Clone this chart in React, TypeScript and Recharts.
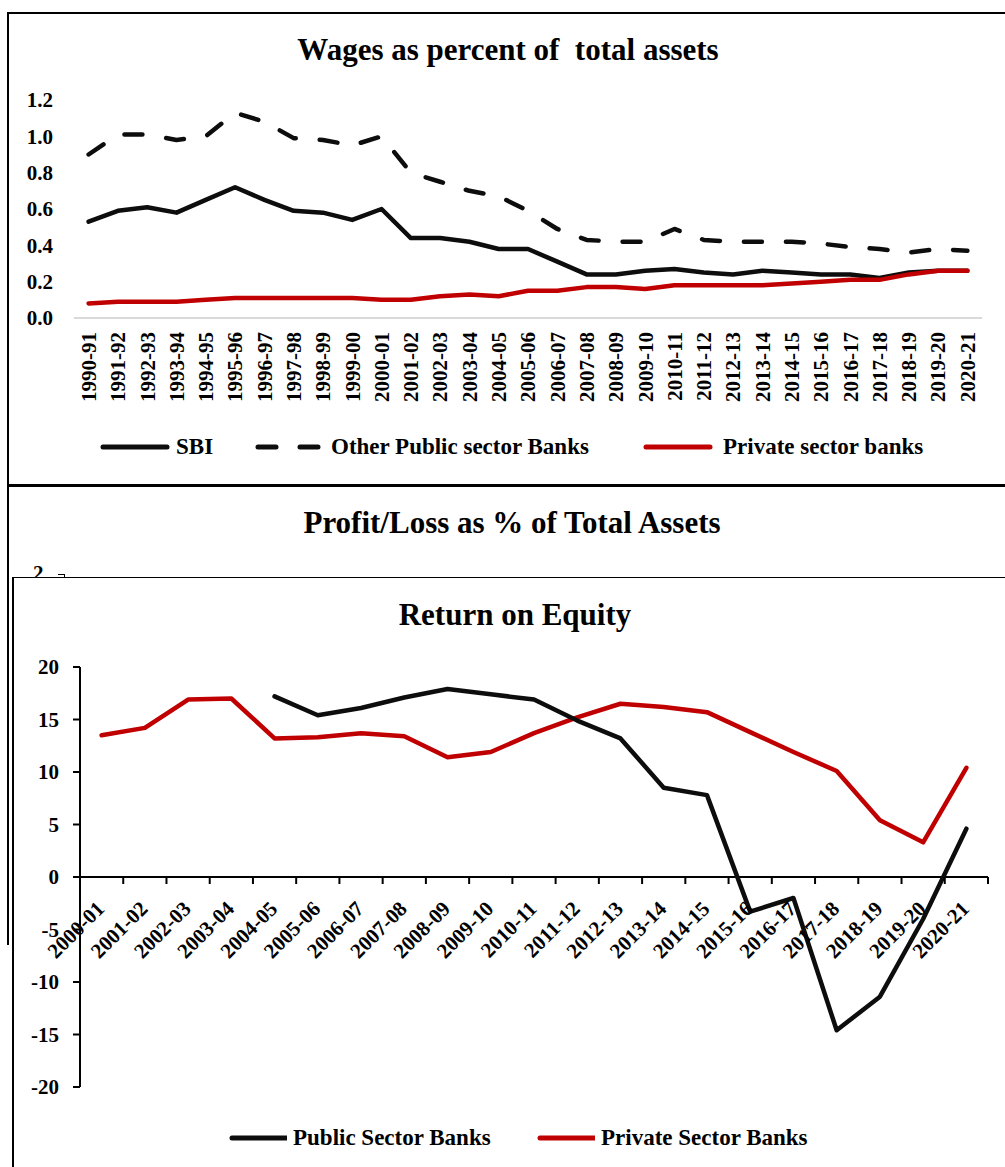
import React from 'react';
import { LineChart, Line, XAxis, YAxis, ReferenceLine } from 'recharts';

// wages as % of total assets, 1990-91 .. 2020-21
const wageYears = [
  '1990-91', '1991-92', '1992-93', '1993-94', '1994-95', '1995-96', '1996-97', '1997-98',
  '1998-99', '1999-00', '2000-01', '2001-02', '2002-03', '2003-04', '2004-05', '2005-06',
  '2006-07', '2007-08', '2008-09', '2009-10', '2010-11', '2011-12', '2012-13', '2013-14',
  '2014-15', '2015-16', '2016-17', '2017-18', '2018-19', '2019-20', '2020-21',
];
const sbiWages = [
  0.53, 0.59, 0.61, 0.58, 0.65, 0.72, 0.65, 0.59, 0.58, 0.54, 0.60, 0.44, 0.44, 0.42, 0.38, 0.38,
  0.31, 0.24, 0.24, 0.26, 0.27, 0.25, 0.24, 0.26, 0.25, 0.24, 0.24, 0.22, 0.25, 0.26, 0.26,
];
const otherPsbWages = [
  0.90, 1.01, 1.01, 0.98, 1.00, 1.13, 1.08, 0.99, 0.98, 0.95, 1.00, 0.80, 0.75, 0.70, 0.67, 0.59,
  0.49, 0.43, 0.42, 0.42, 0.49, 0.43, 0.42, 0.42, 0.42, 0.41, 0.39, 0.38, 0.36, 0.38, 0.37,
];
const privateWages = [
  0.08, 0.09, 0.09, 0.09, 0.10, 0.11, 0.11, 0.11, 0.11, 0.11, 0.10, 0.10, 0.12, 0.13, 0.12, 0.15,
  0.15, 0.17, 0.17, 0.16, 0.18, 0.18, 0.18, 0.18, 0.19, 0.20, 0.21, 0.21, 0.24, 0.26, 0.26,
];
const wageTicks = [0, 0.2, 0.4, 0.6, 0.8, 1.0, 1.2];

// return on equity, 2000-01 .. 2020-21
const roeYears = [
  '2000-01', '2001-02', '2002-03', '2003-04', '2004-05', '2005-06', '2006-07', '2007-08',
  '2008-09', '2009-10', '2010-11', '2011-12', '2012-13', '2013-14', '2014-15', '2015-16',
  '2016-17', '2017-18', '2018-19', '2019-20', '2020-21',
];
const publicRoe = [
  null, null, null, null, 17.2, 15.4, 16.1, 17.1, 17.9, 17.4, 16.9, 14.9, 13.2, 8.5, 7.8, -3.3,
  -2.0, -14.6, -11.4, -4.0, 4.6,
];
const privateRoe = [
  13.5, 14.2, 16.9, 17.0, 13.2, 13.3, 13.7, 13.4, 11.4, 11.9, 13.7, 15.2, 16.5, 16.2, 15.7, 13.8,
  11.9, 10.1, 5.4, 3.3, 10.4,
];
const roeTicks = [-20, -15, -10, -5, 0, 5, 10, 15, 20];

const FONT = '"Liberation Serif", "Times New Roman", serif';
const RED = '#c00000';
const BLACK = '#0d0d0d';

const ROE_PLOT_W = 908;
const ROE_PLOT_H = 420;

const wageData = wageYears.map((year, i) => ({
  year,
  sbi: sbiWages[i],
  other: otherPsbWages[i],
  pvt: privateWages[i],
}));

const roeData = roeYears.map((year, i) => ({
  year,
  psb: publicRoe[i],
  pvt: privateRoe[i],
}));

const labelStyle = { fontFamily: FONT, fontWeight: 700, fill: '#000' };

function WageXTick({ x, y, payload }: any) {
  return (
    <text x={x} y={y} dy="0.35em" textAnchor="end" fontSize={21} transform={`rotate(-90, ${x}, ${y})`} style={labelStyle}>
      {payload.value}
    </text>
  );
}

function WageYTick({ x, y, payload }: any) {
  return (
    <text x={x} y={y} dy="0.35em" textAnchor="end" fontSize={21} style={labelStyle}>
      {Number(payload.value).toFixed(1)}
    </text>
  );
}

function RoeYTick({ x, y, payload }: any) {
  return (
    <text x={x} y={y} dy="0.35em" textAnchor="end" fontSize={21} style={labelStyle}>
      {payload.value}
    </text>
  );
}

// x axis of the ROE chart sits on the zero line, so ticks are shifted up from the plot bottom
function RoeXTick({ x, y, payload, index }: any) {
  const zeroY = y - ROE_PLOT_H / 2;
  const step = ROE_PLOT_W / roeYears.length;
  const tx = x + 4;
  const ty = zeroY + 33;
  return (
    <g>
      <line x1={x - step / 2} x2={x - step / 2} y1={zeroY} y2={zeroY + 7} stroke="#000" strokeWidth={2} />
      {index === roeYears.length - 1 && (
        <line x1={x + step / 2} x2={x + step / 2} y1={zeroY} y2={zeroY + 7} stroke="#000" strokeWidth={2} />
      )}
      <text x={tx} y={ty} textAnchor="end" fontSize={21} transform={`rotate(-45, ${tx}, ${ty})`} style={labelStyle}>
        {payload.value}
      </text>
    </g>
  );
}

function LegendLine({ color, dashed }: { color: string; dashed?: boolean }) {
  return (
    <svg width={70} height={8} style={{ display: 'block' }}>
      <line
        x1={3} x2={67} y1={4} y2={4}
        stroke={color}
        strokeWidth={5}
        strokeLinecap="round"
        strokeDasharray={dashed ? '18 24' : undefined}
      />
    </svg>
  );
}

function LegendItem({ left, top, color, dashed, label, width = 70 }: any) {
  return (
    <div style={{ position: 'absolute', left, top, height: 23, display: 'flex', alignItems: 'center', gap: 6 }}>
      <div style={{ width, overflow: 'hidden' }}><LegendLine color={color} dashed={dashed} /></div>
      <span style={{ fontFamily: FONT, fontWeight: 700, fontSize: 23, lineHeight: '23px', whiteSpace: 'nowrap' }}>{label}</span>
    </div>
  );
}

function Title({ cx, top, text }: { cx: number; top: number; text: string }) {
  return (
    <div
      style={{
        position: 'absolute', left: cx, top, transform: 'translateX(-50%)',
        fontFamily: FONT, fontWeight: 700, fontSize: 31, lineHeight: '31px', whiteSpace: 'pre', color: '#000',
      }}
    >
      {text}
    </div>
  );
}

export default function App() {
  return (
    <div style={{ position: 'absolute', left: 0, top: 0, width: 1005, height: 1167, overflow: 'hidden', background: '#fff' }}>
      {/* frames */}
      <div style={{ position: 'absolute', left: 7, top: 12, width: 1020, height: 471, border: '2px solid #000' }} />
      <div style={{ position: 'absolute', left: 7, top: 484, width: 1020, height: 459, borderTop: '2px solid #000', borderLeft: '2px solid #000' }} />

      {/* wages chart */}
      <Title cx={508} top={34} text="Wages as percent of  total assets" />
      <div style={{ position: 'absolute', left: 0, top: 0 }}>
        <LineChart width={1005} height={420} data={wageData} margin={{ top: 100, right: 23, left: 0, bottom: 0 }}>
          <XAxis
            dataKey="year"
            interval={0}
            padding={{ left: 14.6, right: 14.6 }}
            axisLine={{ stroke: '#d9d9d9', strokeWidth: 2 }}
            tickLine={false}
            tickSize={0}
            tickMargin={14}
            height={102}
            tick={<WageXTick />}
          />
          <YAxis
            domain={[0, 1.2]}
            ticks={wageTicks}
            width={74}
            axisLine={false}
            tickLine={false}
            tickSize={0}
            tickMargin={21}
            tick={<WageYTick />}
          />
          <Line dataKey="other" stroke={BLACK} strokeWidth={4.5} strokeDasharray="18 24" strokeLinecap="round" strokeLinejoin="round" dot={false} isAnimationActive={false} />
          <Line dataKey="sbi" stroke={BLACK} strokeWidth={4.5} strokeLinejoin="round" strokeLinecap="round" dot={false} isAnimationActive={false} />
          <Line dataKey="pvt" stroke={RED} strokeWidth={4.5} strokeLinejoin="round" strokeLinecap="round" dot={false} isAnimationActive={false} />
        </LineChart>
      </div>
      <LegendItem left={100} top={435} color={BLACK} label="SBI" />
      <LegendItem left={255} top={435} color={BLACK} dashed label="Other Public sector Banks" />
      <LegendItem left={643} top={435} color={RED} label="Private sector banks" width={74} />

      {/* profit/loss chart, mostly hidden behind the ROE panel */}
      <Title cx={512} top={507} text="Profit/Loss as % of Total Assets" />
      <div style={{ position: 'absolute', left: 33, top: 563, fontFamily: FONT, fontWeight: 700, fontSize: 21, lineHeight: '21px' }}>2</div>
      <div style={{ position: 'absolute', left: 58, top: 574, width: 6, height: 10, borderTop: '1.5px solid #000', borderRight: '1.5px solid #000' }} />

      {/* ROE panel */}
      <div style={{ position: 'absolute', left: 12, top: 577, width: 1020, height: 620, borderTop: '1.5px solid #000', borderLeft: '2px solid #000', background: '#fff' }} />
      <Title cx={515} top={599} text="Return on Equity" />
      <div style={{ position: 'absolute', left: 0, top: 620 }}>
        <LineChart width={1005} height={480} data={roeData} margin={{ top: 47, right: 17, left: 0, bottom: 0 }}>
          <XAxis
            dataKey="year"
            interval={0}
            padding={{ left: ROE_PLOT_W / roeYears.length / 2, right: ROE_PLOT_W / roeYears.length / 2 }}
            axisLine={false}
            tickLine={false}
            tickSize={0}
            tickMargin={0}
            height={13}
            tick={<RoeXTick />}
          />
          <YAxis
            domain={[-20, 20]}
            ticks={roeTicks}
            width={80}
            axisLine={{ stroke: '#000', strokeWidth: 2 }}
            tickLine={{ stroke: '#000', strokeWidth: 2 }}
            tickSize={7}
            tickMargin={14}
            tick={<RoeYTick />}
          />
          <ReferenceLine y={0} stroke="#000" strokeWidth={2} />
          <Line dataKey="pvt" stroke={RED} strokeWidth={4.5} strokeLinejoin="round" strokeLinecap="round" dot={false} isAnimationActive={false} />
          <Line dataKey="psb" stroke={BLACK} strokeWidth={4.5} strokeLinejoin="round" strokeLinecap="round" dot={false} connectNulls={false} isAnimationActive={false} />
        </LineChart>
      </div>
      <LegendItem left={229} top={1126} color={BLACK} label="Public Sector Banks" width={58} />
      <LegendItem left={537} top={1126} color={RED} label="Private Sector Banks" width={58} />
    </div>
  );
}
